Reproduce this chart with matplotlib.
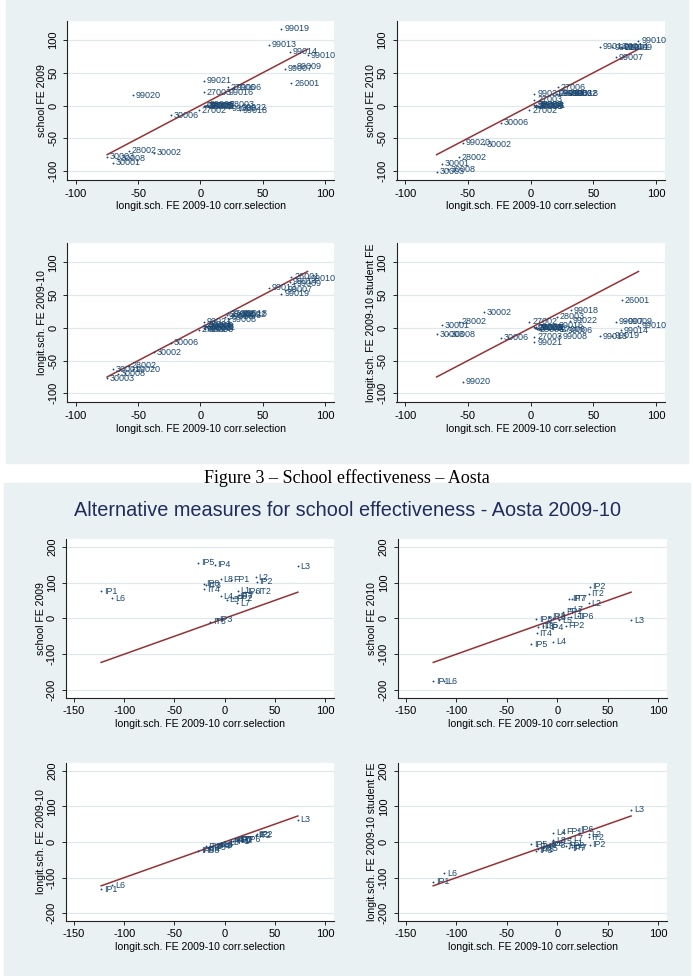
import matplotlib
matplotlib.use("Agg")
import matplotlib.pyplot as plt
from matplotlib import font_manager
from matplotlib.patches import Rectangle

# ---------------- data: upper graph (schools) ----------------
top_ids = ['99019', '99013', '99014', '99010', '99009', '99007', '26001', '99021',
           '27006', '99006', '99016', '27003', '28003', '99008', '99018', '99022',
           '27002', '27008', '28006', '28008', '30005', '99001', '99003', '30006',
           '30002', '28002', '99020', '30001', '30008', '30003']
top_x = [65, 55, 72, 86, 75, 68, 73, 3, 22, 27, 20, 3, 21, 23, 32, 31,
         -1, 3.5, 4, 5, 4.5, 6, 3, -24, -37.5, -57.5, -54, -70.5, -66, -75]
top_fe2009 = [117, 93, 82, 77, 60, 56, 34, 38, 28, 27, 20, 20, 2, -4, -7, -3,
              -7, 0, -1, 1, 0, -1, 0, -14.5, -72, -69, 16, -87, -81, -78]
top_fe2010 = [89, 90, 90, 99, 89, 73.5, 88, 18, 28, 19, 18, 9, 18, 18, 18, 19,
              -7, -1, 1, 0, -2, 0, 1, -26, -59, -79, -57, -89, -97, -101]
top_longit = [52, 61, 70, 76, 68, 58, 78, 9, 22, 19, 17, 5, 20, 13, 22, 21,
              -3, 1, -2, 2, 3, 0, -1, -23, -37, -58, -63, -63, -70, -77]
top_student = [-12, -12.5, -4, 3, 10, 9, 42, -22, -2, -4, 3, -13.5, 17, -12.5, 27, 11,
               9, -1, 0, -2, 1, 0, 1, -15, 24, 9.5, -82, 4, -10, -10]
top_xticks = [-100, -50, 0, 50, 100]
top_yticks = [-100, -50, 0, 50, 100]

# ---------------- data: lower graph ----------------
bot_ids = ['IP1', 'L6', 'IP5', 'IP4', 'L3', 'L8', 'FP1', 'L2', 'IP2', 'IP8', 'IT4', 'L1',
           'IP6', 'IT2', 'FP2', 'IT7', 'IP7', 'L7', 'IT5', 'IP3', 'L4', 'L5', 'IT3']
bot_x = [-123, -112, -26, -10, 73, -4, 6, 31, 32, -21, -20.5, 13,
         20, 31, 8.5, 14, 12, 12.5, -14.5, -8, -4, 2, -19]
bot_fe2009 = [76, 56, 155, 149, 146, 109, 108, 114, 102, 96, 81, 77,
              74, 74, 56, 65, 60, 42, -9, -3, 62, 52, 93]
bot_fe2010 = [-175, -175, -72, -25, -5, 2, 19, 42, 88, -2, -42, 5,
              6.5, 68, -20, 55, 55, 26, -21, 5, -65, -5, -24]
bot_longit = [-133, -121, -25, -14, 63, -6, 2, 20, 22, -25, -20, 5,
              8, 18, 4, 8, 6, 6, -15, -10, -8, -2, -12]
bot_student = [-111, -88, -6, -8, 90, 5, 29, 22, -8, -24, -12, -5,
               34, 13, -10, -15, -18, 10, -18, -10, 26, 0, -20]
bot_xticks = [-150, -100, -50, 0, 50, 100]
bot_yticks = [-200, -100, 0, 100, 200]

XLAB = 'longit.sch. FE 2009-10 corr.selection'
YLABS = ['school FE 2009', 'school FE 2010', 'longit.sch. FE 2009-10',
         'longit.sch. FE 2009-10 student FE']
TITLE = 'Alternative measures for school effectiveness - Aosta 2009-10'
CAPTION = 'Figure 3 \u2013 School effectiveness \u2013 Aosta'


def has_font(name):
    try:
        font_manager.findfont(font_manager.FontProperties(family=name),
                              fallback_to_default=False)
        return True
    except Exception:
        return False


if has_font('Liberation Sans Narrow'):
    FAM = 'Liberation Sans Narrow'
    TICK_FS, LAB_FS, MFS_TOP, MFS_BOT = 9.5, 9.2, 7.9, 7.8
else:
    FAM = 'Liberation Sans'
    TICK_FS, LAB_FS, MFS_TOP, MFS_BOT = 8.0, 7.6, 6.5, 6.4

plt.rcParams['font.family'] = [FAM, 'DejaVu Sans']
plt.rcParams['axes.unicode_minus'] = False

W, H = 693, 976
BG = '#eaf1f3'
GRID = '#e0e8eb'
NAVY = '#1a476f'
RED = '#963234'

fig = plt.figure(figsize=(W / 100, H / 100), dpi=100)
fig.patch.set_facecolor('white')
fig.patches.append(Rectangle((6 / W, 1 - 463 / H), 682 / W, 463 / H,
                             transform=fig.transFigure, color=BG, zorder=-5))
fig.patches.append(Rectangle((4 / W, 0), 686 / W, (H - 483) / H,
                             transform=fig.transFigure, color=BG, zorder=-5))


def add_ax(l, t, r, b):
    ax = fig.add_axes([l / W, 1 - b / H, (r - l) / W, (b - t) / H])
    ax.set_zorder(2)
    return ax


def draw(ax, x, y, ids, ylab, xt, yt, xlim, ylim, mfs):
    ax.set_facecolor('white')
    ax.set_xlim(xlim)
    ax.set_ylim(ylim)
    ax.set_xticks(xt)
    ax.set_xticklabels([str(v) for v in xt])
    ax.set_yticks(yt)
    ax.set_yticklabels([str(v) for v in yt])
    ax.yaxis.grid(True, color=GRID, lw=0.9)
    ax.set_axisbelow(True)
    for s in ['top', 'right']:
        ax.spines[s].set_visible(False)
    for s in ['left', 'bottom']:
        ax.spines[s].set_linewidth(0.8)
        ax.spines[s].set_color('#222222')
    ax.tick_params(direction='out', length=3, width=0.7, labelsize=TICK_FS,
                   colors='#222222', labelcolor='black')
    ax.tick_params(axis='x', pad=3)
    ax.tick_params(axis='y', pad=3.5, labelrotation=90)
    for lab in ax.get_yticklabels():
        lab.set_va('center')
    xmin, xmax = min(x), max(x)
    ax.plot([xmin, xmax], [xmin, xmax], color=RED, lw=1.1, zorder=2)
    ax.scatter(x, y, s=1.8, color=NAVY, lw=0, zorder=3)
    for xi, yi, t in zip(x, y, ids):
        ax.annotate(t, (xi, yi), xytext=(2, 0), textcoords='offset points',
                    ha='left', va='center', fontsize=mfs, color=NAVY, zorder=4)
    ax.set_xlabel(XLAB, fontsize=LAB_FS, labelpad=2)
    ax.set_ylabel(ylab, fontsize=LAB_FS, labelpad=1)


TXL, TYL = (-107, 107), (-114, 129)
BXL, BYL = (-158, 109), (-222, 222)

top_series = [top_fe2009, top_fe2010, top_longit, top_student]
bot_series = [bot_fe2009, bot_fe2010, bot_longit, bot_student]

top_boxes = [(67.3, 21, 333.7, 180.2), (396.5, 21, 664.8, 180.2),
             (67.3, 243.3, 333.7, 402.5), (396.5, 243.3, 664.8, 402.5)]
bot_boxes = [(66, 538.8, 334, 697.9), (397.9, 538.8, 667.4, 697.9),
             (66, 762.9, 334, 921.1), (397.9, 762.9, 667.4, 921.1)]

for box, ys, yl in zip(top_boxes, top_series, YLABS):
    draw(add_ax(*box), top_x, ys, top_ids, yl, top_xticks, top_yticks, TXL, TYL, MFS_TOP)
for box, ys, yl in zip(bot_boxes, bot_series, YLABS):
    draw(add_ax(*box), bot_x, ys, bot_ids, yl, bot_xticks, bot_yticks, BXL, BYL, MFS_BOT)

# titles / caption
t_top = fig.text(360 / W, 1 + 1.0 / H, TITLE, ha='center', va='baseline',
                 fontsize=15, color='#1f2d5c')
t_bot = fig.text(348 / W, 1 - 511 / H, TITLE, ha='center', va='center',
                 fontsize=15, color='#1f2d5c')
cap = fig.text(347 / W, 1 - 478 / H, CAPTION, ha='center', va='center',
               fontsize=13, family='Liberation Serif', color='black')


def fit(txt, target):
    fig.canvas.draw()
    w = txt.get_window_extent(fig.canvas.get_renderer()).width
    txt.set_fontsize(txt.get_fontsize() * target / w)


fit(t_bot, 547)
t_top.set_fontsize(t_bot.get_fontsize())
fit(cap, 285)

fig.savefig('out.png', dpi=100, facecolor='white')
